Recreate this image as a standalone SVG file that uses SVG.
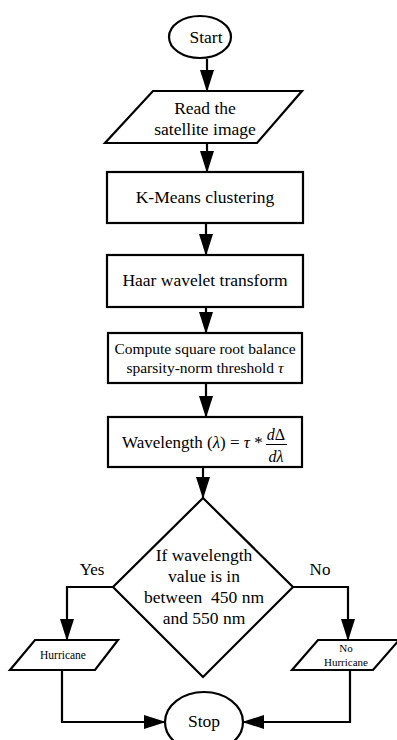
<svg xmlns="http://www.w3.org/2000/svg" width="397" height="740" viewBox="0 0 397 740" font-family="'Liberation Serif', 'Times New Roman', Tinos, 'DejaVu Serif', serif">
<style>
.s{fill:#fff;stroke:#000;stroke-width:2.2}
.c{fill:none;stroke:#000;stroke-width:2.2}
text{font-family:'Liberation Serif','Times New Roman',Tinos,'DejaVu Serif',serif;fill:#000}
.m{font-size:17.5px;text-anchor:middle}
.sm{font-size:11.5px;text-anchor:middle}
</style>
<defs>
<marker id="ah" markerUnits="userSpaceOnUse" markerWidth="22" markerHeight="14" refX="21" refY="7" orient="auto">
<path d="M0,0 L22,7 L0,14 z" fill="#000"/>
</marker>
</defs>
<g id="connectors">
<path class="c" d="M207,59 V91" marker-end="url(#ah)"/>
<path class="c" d="M207,143 V172" marker-end="url(#ah)"/>
<path class="c" d="M206,223 V255" marker-end="url(#ah)"/>
<path class="c" d="M206,307 V333" marker-end="url(#ah)"/>
<path class="c" d="M206,383 V417" marker-end="url(#ah)"/>
<path class="c" d="M203,467 V498" marker-end="url(#ah)"/>
<path class="c" d="M113,587 H67 V640" marker-end="url(#ah)"/>
<path class="c" d="M293,587 H348 V640" marker-end="url(#ah)"/>
<path class="c" d="M62,670 V722 H165" marker-end="url(#ah)"/>
<path class="c" d="M350,670 V722 H243" marker-end="url(#ah)"/>
<text x="92" y="575" class="m" style="font-size:17px">Yes</text>
<text x="320" y="575" class="m" style="font-size:17px">No</text>
</g>
<g id="start">
<ellipse class="s" cx="200" cy="37" rx="31" ry="21"/>
<text x="206" y="43" class="m">Start</text>
</g>
<g id="read">
<polygon class="s" points="153,91 302,91 257,143 105,143"/>
<text x="205" y="114" class="m">Read the</text>
<text x="205" y="135" class="m">satellite image</text>
</g>
<g id="kmeans">
<rect class="s" x="107" y="172" width="196" height="51"/>
<text x="205" y="203" class="m">K-Means clustering</text>
</g>
<g id="haar">
<rect class="s" x="107" y="255" width="196" height="52"/>
<text x="205" y="286" class="m">Haar wavelet transform</text>
</g>
<g id="compute">
<rect class="s" x="108" y="333" width="194" height="50"/>
<text x="205" y="354" class="m" style="font-size:15.5px">Compute square root balance</text>
<text x="205" y="373" class="m" style="font-size:15.5px">sparsity-norm threshold <tspan font-style="italic">τ</tspan></text>
</g>
<g id="wavelength">
<rect class="s" x="108" y="417" width="194" height="50"/>
<text x="122" y="448" style="font-size:17px">Wavelength (<tspan font-style="italic">λ</tspan>) = <tspan font-style="italic">τ</tspan> *</text>
<text x="276" y="440" class="m" style="font-size:16px"><tspan font-style="italic">d</tspan>Δ</text>
<line x1="266" y1="444.5" x2="287" y2="444.5" stroke="#000" stroke-width="1"/>
<text x="276" y="462" class="m" style="font-size:16px;font-style:italic">dλ</text>
</g>
<g id="decision">
<polygon class="s" points="203,498 293,587 203,677 113,587"/>
<text x="204" y="561" class="m">If wavelength</text>
<text x="204" y="582" class="m">value is in</text>
<text x="204" y="603" class="m" xml:space="preserve">between  450 nm</text>
<text x="204" y="624" class="m">and 550 nm</text>
</g>
<g id="hurricane">
<polygon class="s" points="35,640 118,640 95,670 10,670"/>
<text x="63" y="659" class="sm">Hurricane</text>
</g>
<g id="nohurricane">
<polygon class="s" points="318,640 399,640 373,670 292,670"/>
<text x="346" y="652" class="sm" style="font-size:11px">No</text>
<text x="346" y="666" class="sm" style="font-size:11px">Hurricane</text>
</g>
<g id="stop">
<ellipse class="s" cx="204" cy="722" rx="39" ry="30"/>
<text x="204" y="727" class="m">Stop</text>
</g>
</svg>
